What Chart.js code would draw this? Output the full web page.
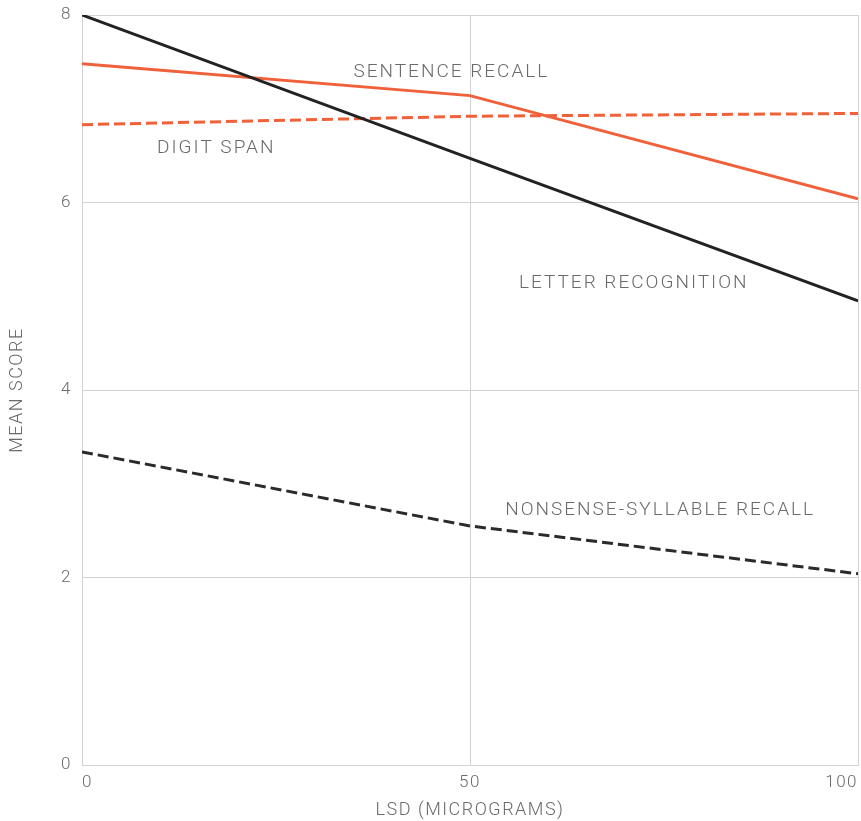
<!DOCTYPE html>
<html lang="en">
<head>
    <meta charset="UTF-8">
    <title>Mean score vs LSD dose</title>
    <style>
        html, body { margin: 0; padding: 0; background: #ffffff; }
        #wrap { width: 861px; height: 821px; position: relative; }
    </style>
</head>
<body>
    <div id="wrap"><canvas id="chart" width="861" height="821"></canvas></div>
    <script src="https://cdn.jsdelivr.net/npm/chart.js"></script>
    <script>
        // dose in micrograms
        const doses = [0, 50, 100];

        // mean score per test
        const letterRecognition = [8.0, 6.47, 4.95];
        const sentenceRecall = [7.48, 7.14, 6.04];
        const digitSpan = [6.83, 6.92, 6.95];
        const nonsenseRecall = [3.34, 2.55, 2.04];

        const yTicks = [0, 2, 4, 6, 8];
        const xTicks = [0, 50, 100];

        // text written next to each curve, anchored in data units
        const curveNames = ['SENTENCE RECALL', 'DIGIT SPAN', 'LETTER RECOGNITION', 'NONSENSE-SYLLABLE RECALL'];
        const nameX = [47.6, 17.3, 71.1, 74.5];
        const nameY = [7.39, 6.58, 5.14, 2.72];

        const orange = '#f0603a';
        const ink = '#222222';
        const gridGray = '#d2d2d2';
        const textGray = '#6a6a6a';

        function toPoints(vals) {
            return doses.map((d, i) => ({ x: d, y: vals[i] }));
        }

        // wide-set lettering for all text on the canvas
        const spacing = {
            id: 'spacing',
            beforeDraw(chart) { chart.ctx.letterSpacing = '1.5px'; }
        };

        const curveLabels = {
            id: 'curveLabels',
            afterDatasetsDraw(chart) {
                const ctx = chart.ctx;
                const xs = chart.scales.x, ys = chart.scales.y;
                ctx.save();
                ctx.font = '300 19px Roboto';
                ctx.fillStyle = textGray;
                ctx.textAlign = 'center';
                ctx.textBaseline = 'middle';
                ctx.letterSpacing = '2px';
                curveNames.forEach((name, i) => {
                    ctx.fillText(name, xs.getPixelForValue(nameX[i]), ys.getPixelForValue(nameY[i]));
                });
                ctx.restore();
            }
        };

        const tickFont = { family: 'Roboto', size: 17, weight: '300' };
        const titleFont = { family: 'Roboto', size: 18, weight: '300' };

        new Chart(document.getElementById('chart'), {
            type: 'line',
            data: {
                datasets: [
                    { data: toPoints(letterRecognition), borderColor: ink, borderWidth: 3 },
                    { data: toPoints(sentenceRecall), borderColor: orange, borderWidth: 3 },
                    { data: toPoints(digitSpan), borderColor: orange, borderWidth: 3, borderDash: [11, 5] },
                    { data: toPoints(nonsenseRecall), borderColor: '#2a2a2a', borderWidth: 3, borderDash: [11, 5] }
                ]
            },
            options: {
                responsive: false,
                animation: false,
                parsing: false,
                layout: { padding: { top: 15, right: 3, left: 0, bottom: 0 } },
                elements: { point: { radius: 0 }, line: { tension: 0 } },
                plugins: { legend: { display: false }, tooltip: { enabled: false } },
                scales: {
                    x: {
                        type: 'linear',
                        min: 0,
                        max: 100,
                        afterBuildTicks: s => { s.ticks = xTicks.map(v => ({ value: v })); },
                        afterFit: s => { s.height = 56; s.paddingLeft = 0; s.paddingRight = 0; },
                        grid: { color: gridGray, drawTicks: false },
                        border: { color: gridGray },
                        ticks: { color: textGray, font: tickFont, padding: 8, align: 'inner' },
                        title: { display: true, text: 'LSD (MICROGRAMS)', color: textGray, font: titleFont, padding: { top: 2, bottom: 0 } }
                    },
                    y: {
                        min: 0,
                        max: 8,
                        afterBuildTicks: s => { s.ticks = yTicks.map(v => ({ value: v })); },
                        afterFit: s => { s.width = 82; s.paddingTop = 0; s.paddingBottom = 0; },
                        grid: { color: gridGray, drawTicks: false },
                        border: { color: gridGray },
                        ticks: { color: textGray, font: tickFont, padding: 10 },
                        title: { display: true, text: 'MEAN SCORE', color: textGray, font: titleFont, padding: { top: 7, bottom: 0 } }
                    }
                }
            },
            plugins: [spacing, curveLabels]
        });
    </script>
</body>
</html>
